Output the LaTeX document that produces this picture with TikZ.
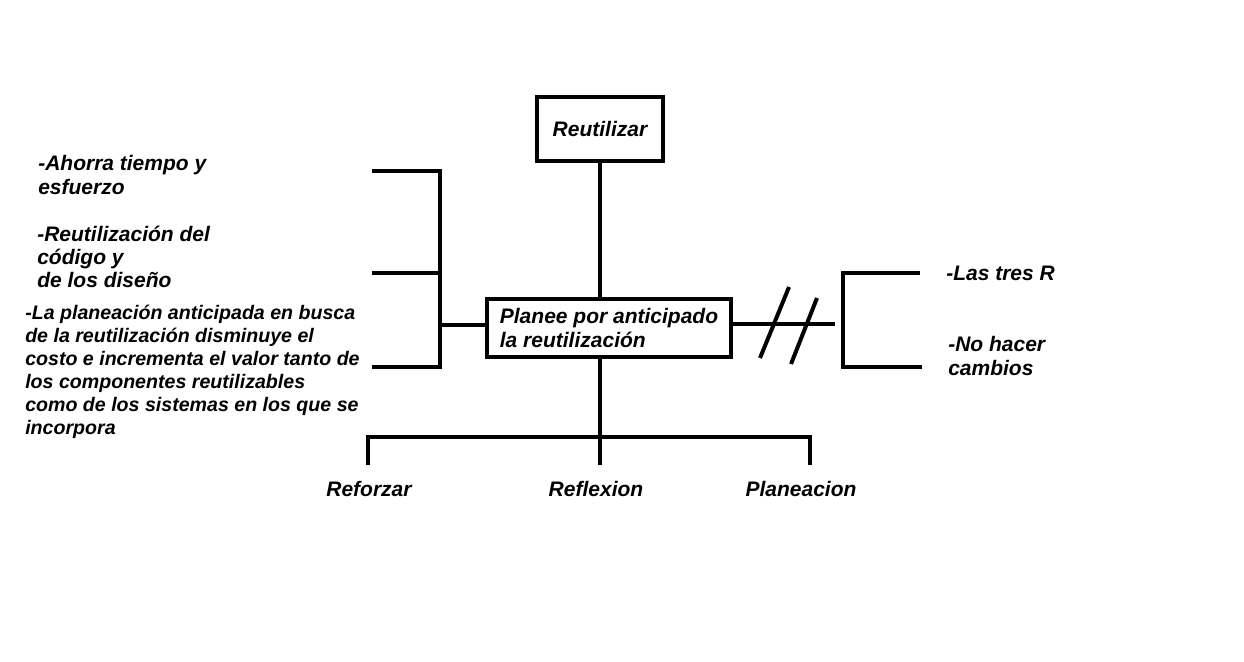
\documentclass[tikz,border=0pt]{standalone}
\usepackage{fontspec}
\setmainfont{Liberation Sans}
\begin{document}
\begin{tikzpicture}[x=0.75pt,y=-0.75pt]
%%%%%%%%%%%%%%%%%%%%%%%%%%%%%%%%%%%%%%%%%%%%%%%%%%%%%%%%
% STYLE
\tikzstyle{caja}=[rectangle,draw,line width=3pt,inner sep=0pt,align=left,font=\fontsize{15.75}{17.5}\selectfont\bfseries\itshape]
\tikzstyle{linea}=[line width=3pt]
\tikzstyle{txt}=[inner sep=0pt,align=left,font=\fontsize{15.75}{17.5}\selectfont\bfseries\itshape]
\tikzstyle{txtsmall}=[inner sep=0pt,align=left,font=\fontsize{14.7}{17.3}\selectfont\bfseries\itshape]

\useasboundingbox[fill=white] (0,0) rectangle (1244,661);
%%%%%%%%%%%%%%%%%%%%%%%%%%%%%%%%%%%%%%%%%%%%%%%%%%%%%%%%
% NODES
\node[caja,minimum width=95pt,minimum height=48pt] (reuse) at (600,129) {Reutilizar};
\node[caja,minimum width=183pt,minimum height=43pt] (plan) at (609,328) {Planee por anticipado\\la reutilización};

\coordinate (L0) at (372,171);
\coordinate (L1) at (440,171);
\coordinate (L2) at (372,273);
\coordinate (L3) at (440,273);
\coordinate (L4) at (372,367);
\coordinate (L5) at (440,367);
\coordinate (L6) at (440,325);

\coordinate (R0) at (835,324);
\coordinate (R1) at (843,273);
\coordinate (R2) at (920,273);
\coordinate (R3) at (843,367);
\coordinate (R4) at (922,367);
\coordinate (S0) at (760,358);
\coordinate (S1) at (789,287);
\coordinate (S2) at (791,364);
\coordinate (S3) at (817,298);

\coordinate (B0) at (600,437);
\coordinate (B1) at (368,437);
\coordinate (B2) at (810,437);
\coordinate (B3) at (368,465);
\coordinate (B4) at (600,465);
\coordinate (B5) at (810,465);

\node[txt,anchor=west] (t1) at (38,175) {-Ahorra tiempo y\\esfuerzo};
\node[txt,anchor=west] (t2) at (37,257) {-Reutilización del\\código y\\de los diseño};
\node[txtsmall,anchor=west] (t3) at (25,372) {-La planeación anticipada en busca\\de la reutilización disminuye el\\costo e incrementa el valor tanto de\\los componentes reutilizables\\como de los sistemas en los que se\\incorpora};
\node[txt,anchor=west] (t4) at (946,273) {-Las tres R};
\node[txt,anchor=west] (t5) at (948,356) {-No hacer\\cambios};
\node[txt] (t6) at (369,489) {Reforzar};
\node[txt] (t7) at (596,489) {Reflexion};
\node[txt] (t8) at (801,489) {Planeacion};
%%%%%%%%%%%%%%%%%%%%%%%%%%%%%%%%%%%%%%%%%%%%%%%%%%%%%%%%
% LINKS
\draw[linea] (reuse) -- (reuse |- plan.north);

\draw[linea] (L0) -- (L1) -- (L5) -- (L4);
\draw[linea] (L2) -- (L3);
\draw[linea] (L6) -- (plan.west |- L6);

\draw[linea] (plan.east |- R0) -- (R0);
\draw[linea] (S0) -- (S1);
\draw[linea] (S2) -- (S3);
\draw[linea] (R2) -- (R1) -- (R3) -- (R4);

\draw[linea] (plan.south -| B0) -- (B0);
\draw[linea] (B3) -- (B1) -- (B2) -- (B5);
\draw[linea] (B0) -- (B4);

\end{tikzpicture}
\end{document}
